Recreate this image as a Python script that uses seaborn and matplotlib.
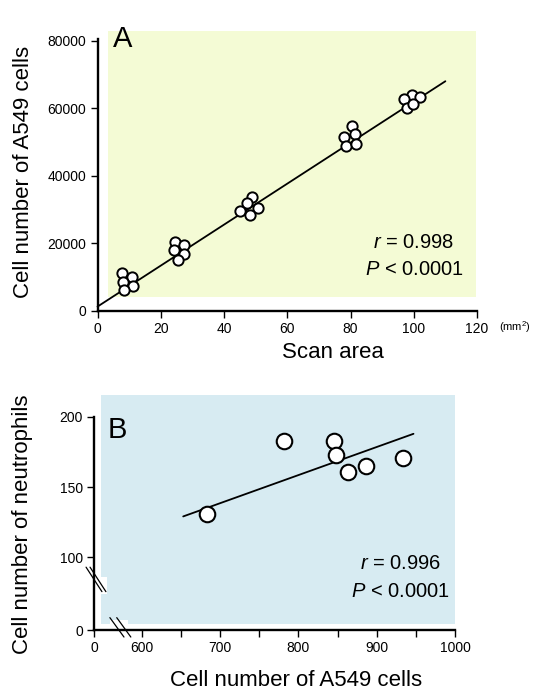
import numpy as np
import pandas as pd
import matplotlib
matplotlib.use("Agg")
import matplotlib.pyplot as plt
from matplotlib.patches import Rectangle
import seaborn as sns

# ---------------- data ----------------
# Panel A
scan_area = [7.6, 11.0, 8.2, 11.3, 8.4,
             24.5, 27.2, 24.2, 27.4, 25.3,
             49.0, 47.2, 45.1, 50.7, 48.3,
             80.4, 77.8, 81.3, 78.6, 81.8,
             99.6, 97.0, 102.1, 97.9, 99.9]
a549_counts = [11170, 10160, 8690, 7410, 6220,
               20540, 19560, 18070, 16790, 15110,
               33690, 31900, 29630, 30620, 28440,
               54620, 51360, 52360, 48890, 49390,
               64000, 62720, 63200, 60060, 61330]
fitA_x = [0, 110]
fitA_y = [1300, 68000]
xticksA = [0, 20, 40, 60, 80, 100, 120]
yticksA = [0, 20000, 40000, 60000, 80000]

# Panel B
a549_B = [684, 782, 846, 848, 863, 887, 933]
neutro_B = [131, 183, 183, 173, 160.5, 165, 171]
fitB_x = [653, 947]
fitB_y = [129, 188]
xticksB = [0, 600, 650, 700, 750, 800, 850, 900, 950, 1000]
xlabelsB = ["0", "600", "", "700", "", "800", "", "900", "", "1000"]
yticksB = [0, 100, 150, 200]

# ---------------- style ----------------
sns.set_theme(style="ticks")
plt.rcParams["font.family"] = ["Liberation Sans", "DejaVu Sans"]
plt.rcParams["mathtext.fontset"] = "custom"
plt.rcParams["mathtext.rm"] = "Liberation Sans"
plt.rcParams["mathtext.it"] = "Liberation Sans:italic"
for k in ["text.color", "axes.labelcolor", "xtick.color", "ytick.color",
          "axes.edgecolor"]:
    plt.rcParams[k] = "black"

W, H = 541, 695
fig = plt.figure(figsize=(W / 100, H / 100), dpi=100)
fig.patch.set_facecolor("white")

bgA = "#F4FBD5"
bgB = "#D7EBF2"
tick_fs = 10
label_fs = 16

def style_axes(ax):
    for s in ["top", "right"]:
        ax.spines[s].set_visible(False)
    for s in ["left", "bottom"]:
        ax.spines[s].set_linewidth(1.7)
        ax.spines[s].set_color("black")
        ax.spines[s].set_zorder(5)
    ax.set_facecolor("none")
    ax.tick_params(direction="out", length=5, width=1.0, colors="black",
                   labelsize=tick_fs, pad=3)
    ax.grid(False)

# ---------------- Panel A ----------------
axA = fig.add_axes([97.5 / W, (H - 311) / H, 379.5 / W, 272 / H])
axA.add_patch(Rectangle((3.3, 4100), 116.4, 83000 - 4100, facecolor=bgA,
                        edgecolor="none", zorder=0, clip_on=False))
axA.plot(fitA_x, fitA_y, color="black", lw=1.3, zorder=2, clip_on=False)
dfA = pd.DataFrame({"area": scan_area, "cells": a549_counts})
sns.scatterplot(data=dfA, x="area", y="cells", ax=axA, s=55, color="white",
                edgecolor="black", linewidth=1.4, zorder=3, clip_on=False)
axA.set_xlim(0, 120)
axA.set_ylim(0, 80500)
axA.set_xticks(xticksA)
axA.set_yticks(yticksA)
axA.set_yticklabels([str(v) for v in yticksA])
style_axes(axA)
axA.set_xlabel("Scan area", fontsize=label_fs)
axA.xaxis.set_label_coords(0.62, -0.151)
axA.xaxis.label.set_va("center")
axA.set_ylabel("Cell number of A549 cells", fontsize=label_fs)
axA.yaxis.set_label_coords(-0.196, 0.511)
axA.yaxis.label.set_va("center")
axA.text(0.067, 1.0, "A", transform=axA.transAxes, fontsize=21,
         ha="center", va="center")
axA.text(1.10, -0.059, "(mm$^2$)", transform=axA.transAxes, fontsize=8,
         ha="center", va="center")
axA.text(0.834, 0.25, r"$\mathit{r}$ = 0.998", transform=axA.transAxes,
         fontsize=14.5, ha="center", va="center")
axA.text(0.834, 0.151, r"$\mathit{P}$ < 0.0001", transform=axA.transAxes,
         fontsize=14.5, ha="center", va="center")

# ---------------- Panel B (broken axes via piecewise scale) ----------------
KX = 0.1015
KY = 0.521

def fx(x):
    x = np.asarray(x, dtype=float)
    return np.where(x < 600, x * KX, 600 * KX + (x - 600))

def fx_inv(t):
    t = np.asarray(t, dtype=float)
    return np.where(t < 600 * KX, t / KX, t - 600 * KX + 600)

def fy(y):
    y = np.asarray(y, dtype=float)
    return np.where(y < 100, y * KY, 100 * KY + (y - 100))

def fy_inv(t):
    t = np.asarray(t, dtype=float)
    return np.where(t < 100 * KY, t / KY, t - 100 * KY + 100)

axB = fig.add_axes([94 / W, (H - 630) / H, 361 / W, 213 / H])
axB.set_xscale("function", functions=(fx, fx_inv))
axB.set_yscale("function", functions=(fy, fy_inv))
axB.set_xlim(0, 1000)
axB.set_ylim(0, 200)
axB.add_patch(Rectangle((88, 8.2), 1000 - 88, 215.8 - 8.2, facecolor=bgB,
                        edgecolor="none", zorder=0, clip_on=False))
axB.plot(fitB_x, fitB_y, color="black", lw=1.3, zorder=2)
dfB = pd.DataFrame({"a549": a549_B, "neut": neutro_B})
sns.scatterplot(data=dfB, x="a549", y="neut", ax=axB, s=125, color="white",
                edgecolor="black", linewidth=1.5, zorder=3, clip_on=False)
axB.set_xticks(xticksB)
axB.set_xticklabels(xlabelsB)
axB.set_yticks(yticksB)
axB.set_yticklabels([str(v) for v in yticksB])
axB.minorticks_off()
style_axes(axB)
axB.set_xlabel("Cell number of A549 cells", fontsize=label_fs)
axB.xaxis.set_label_coords(0.56, -0.239)
axB.xaxis.label.set_va("center")
axB.set_ylabel("Cell number of neutrophils", fontsize=label_fs)
axB.yaxis.set_label_coords(-0.199, 0.498)
axB.yaxis.label.set_va("center")
axB.text(0.065, 0.939, "B", transform=axB.transAxes, fontsize=21,
         ha="center", va="center")
axB.text(0.848, 0.31, r"$\mathit{r}$ = 0.996", transform=axB.transAxes,
         fontsize=14.5, ha="center", va="center")
axB.text(0.848, 0.183, r"$\mathit{P}$ < 0.0001", transform=axB.transAxes,
         fontsize=14.5, ha="center", va="center")

# small white gaps behind the break marks, then the marks
axB.add_patch(Rectangle((0.019, 0.17), 0.017, 0.08, transform=axB.transAxes,
                        facecolor="white", edgecolor="none", zorder=1,
                        clip_on=False))
axB.add_patch(Rectangle((0.045, 0.028), 0.05, 0.02, transform=axB.transAxes,
                        facecolor="white", edgecolor="none", zorder=1,
                        clip_on=False))
brk = dict(color="black", lw=0.9, transform=axB.transAxes, clip_on=False, zorder=6)
for dx in (0.0, 0.011):
    axB.plot([-0.022 + dx, 0.022 + dx], [0.295, 0.180], **brk)
for dx in (0.0, 0.019):
    axB.plot([0.044 + dx, 0.083 + dx], [0.058, -0.033], **brk)

fig.savefig("out.png", dpi=100, facecolor="white")
